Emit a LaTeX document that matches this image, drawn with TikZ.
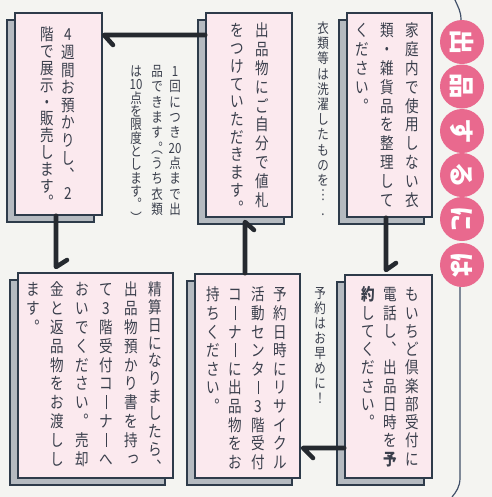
\documentclass[tikz,border=0pt]{standalone}
\usepackage{fontspec}
\usetikzlibrary{fit,shadows}
\newfontfamily\jp{Noto Sans CJK JP}
\newfontfamily\jpv[FakeStretch=0.82]{Noto Sans CJK JP}
\definecolor{paper}{HTML}{F4F4F1}
\definecolor{boxfill}{HTML}{FBE9EE}
\definecolor{edgec}{HTML}{2E3B4A}
\definecolor{shadowc}{HTML}{B5BAC0}
\definecolor{txt}{HTML}{3A3F4C}
\definecolor{linec}{HTML}{25292F}
\definecolor{pinkc}{HTML}{E9698E}
\definecolor{framec}{HTML}{415069}
\makeatletter
\newlength\vem
\newlength\vcp
\def\vc@end{\vc@end}
\def\hcu{\hcu@}
\def\hcl{\hcl@}
\def\cho{\vrule width .05em height .8em depth .04em}
\def\sk#1{\raisebox{.12em}{\kern.26em#1}}
\newcommand\vcol[3]{\vbox{\offinterlineskip\jpv\fontsize{#1pt}{#1pt}\selectfont
  \setlength\vem{#1pt}\setlength\vcp{#2pt}\vc@aux#3\vc@end}}
\def\vc@aux#1{\ifx\vc@end#1\else\vc@cell#1\vc@stop\expandafter\vc@aux\fi}
\def\vc@cell#1#2\vc@stop{%
  \ifx\hcu#1\vc@put{.5\vcp}{.88\vem}{#2}\else
  \ifx\hcl#1\vc@put{.5\vcp}{.38\vem}{#2}\else
  \vc@put{\vcp}{.88\vem}{#1#2}\fi\fi}
\def\vc@put#1#2#3{\setbox\z@\hbox to 1.2\vem{\hss#3\hss}%
  \ht\z@=#2\relax\dp\z@=\dimexpr#1-#2\relax\box\z@}
\makeatother
\begin{document}
\begin{tikzpicture}[x=0.75pt,y=-0.75pt,
  jbox/.style={draw=edgec, line width=1.1pt, fill=boxfill, inner sep=0pt,
    general shadow={fill=shadowc, draw=edgec, line width=1.1pt,
      shadow xshift=-6pt, shadow yshift=-5.25pt}},
  vt/.style={anchor=north, inner sep=0pt, text=txt},
  conn/.style={draw=linec, line width=3.4pt, line cap=round, line join=round},
  titlec/.style={circle, fill=pinkc, minimum size=33pt, inner sep=0pt,
    text=white, rotate=-90, font=\jp\bfseries\fontsize{19}{19}\selectfont},
  framel/.style={draw=framec, line width=0.9pt}]
\useasboundingbox (0,0) rectangle (492,497);
\fill[paper] (0,0) rectangle (492,497);
% frame line and title
\draw[framel] (455,0) .. controls (458,7) and (461,11) .. (461,20);
\draw[framel] (460,287) -- (460,478) .. controls (460,487) and (456,492) .. (452,497);
\node[titlec] (t1) at (462,42) {出};
\node[titlec] (t2) at (462,86.5) {品};
\node[titlec] (t3) at (462,131) {す};
\node[titlec] (t4) at (462,175) {る};
\node[titlec] (t5) at (462,219) {に};
\node[titlec] (t6) at (462,265) {は};
% boxes
\node[jbox, fit={(347,13) (432,217)}] (b1) {};
\node[jbox, fit={(206,13) (292,217)}] (b2) {};
\node[jbox, fit={(15,13) (102,215)}] (b3) {};
\node[jbox, fit={(345,275) (432,478)}] (b4) {};
\node[jbox, fit={(195,274) (300,478)}] (b5) {};
\node[jbox, fit={(18,273) (173,478)}] (b6) {};
% connectors
\coordinate (a1) at (386,270);
\coordinate (a2) at (303,448);
\coordinate (a3) at (245,222);
\coordinate (a4) at (104,35);
\coordinate (a5) at (56,267);
\draw[conn] (b1.south -| a1) -- (a1) -- ++(10,-7);
\draw[conn] (b4.west |- a2) -- (a2) -- ++(10,10);
\draw[conn] (b5.north -| a3) -- (a3) -- ++(9,8);
\draw[conn] (b2.west |- a4) -- (a4) -- ++(9,10);
\draw[conn] (b3.south -| a5) -- (a5) -- ++(11,-7);
% box texts
\node[vt] (b1c1) at (412,22) {\vcol{12.4}{14.1}{家庭内で使用しない衣}};
\node[vt] (b1c2) at (387,22) {\vcol{12.4}{14.1}{類・雑貨品を整理して}};
\node[vt] (b1c3) at (362,22) {\vcol{12.4}{14.1}{ください︒}};
\node[vt] (b2c1) at (262,22) {\vcol{12.4}{14.1}{出品物にご自分で値札}};
\node[vt] (b2c2) at (237,22) {\vcol{12.4}{13.3}{をつけていただきます︒}};
\node[vt] (b3c1) at (68,26) {\vcol{12.4}{13.2}{4週間お預かりし︑2}};
\node[vt] (b3c2) at (47,26) {\vcol{12.4}{12.6}{階で展示・販売します︒}};
\node[vt] (b4c1) at (412,286) {\vcol{12.4}{13.7}{もいちど倶楽部受付に}};
\node[vt] (b4c2) at (390,286) {\vcol{12.4}{13.7}{電話し︑出品日時を{\bfseries 予}}};
\node[vt] (b4c3) at (368,286) {\vcol{12.4}{13.7}{{\bfseries 約}してください︒}};
\node[vt] (b5c1) at (280,286) {\vcol{12.4}{13.95}{予約日時にリサイクル}};
\node[vt] (b5c2) at (258,286) {\vcol{12.4}{13.95}{活動センタ\cho 3階受付}};
\node[vt] (b5c3) at (235,286) {\vcol{12.4}{13.95}{コ\cho ナ\cho に出品物をお}};
\node[vt] (b5c4) at (213,286) {\vcol{12.4}{13.95}{持ちください︒}};
\node[vt] (b6c1) at (155,281) {\vcol{12.4}{13.3}{精算日になりましたら︑}};
\node[vt] (b6c2) at (131,281) {\vcol{12.4}{14.1}{出品物預かり書を持{\sk っ}}};
\node[vt] (b6c3) at (106,281) {\vcol{12.4}{14.1}{て3階受付コ\cho ナ\cho へ}};
\node[vt] (b6c4) at (82,281) {\vcol{12.4}{14.1}{おいでください︒売却}};
\node[vt] (b6c5) at (57,281) {\vcol{12.4}{14.1}{金と返品物をお渡しし}};
\node[vt] (b6c6) at (33,281) {\vcol{12.4}{14.1}{ます︒}};
% notes
\node[vt] (n1) at (323,21) {\vcol{10.5}{11.4}{衣類等は洗濯したものを︙.}};
\node[vt] (n2a) at (175,64) {\vcol{10.5}{11.5}{1回につき{20}点まで出}};
\node[vt] (n2b) at (157,64) {\vcol{10.5}{11.5}{品できます{\hcu︒}{\hcl︵}うち衣類}};
\node[vt] (n2c) at (136,64) {\vcol{10.5}{10.0}{は{10}点を限度とします︒{\hcu︶}}};
\node[vt] (n3) at (320,286) {\vcol{10.5}{11.25}{予約はお早めに！}};
\end{tikzpicture}
\end{document}
